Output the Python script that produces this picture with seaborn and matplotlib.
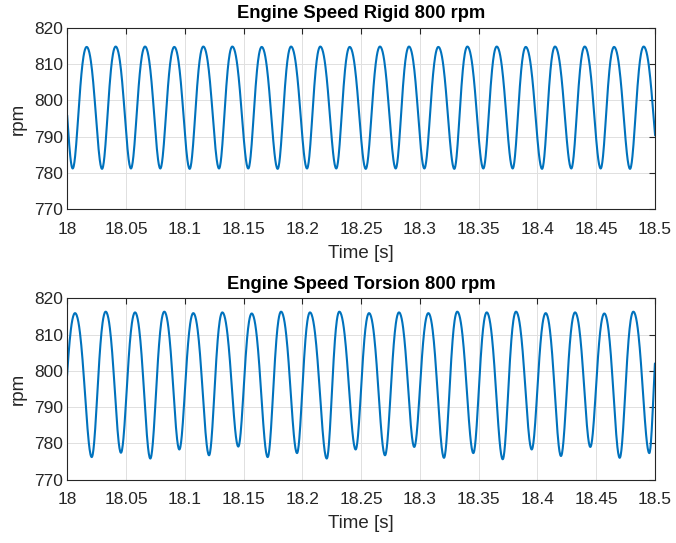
import numpy as np
import pandas as pd
import seaborn as sns
import matplotlib.pyplot as plt

# Extrema (time [s], engine speed [rpm])
# first/last entries sit just outside the 18-18.5 s window
rigid_peak_t = [17.9927, 18.0164, 18.0411, 18.0661, 18.0910, 18.1157, 18.1404, 18.1654,
                18.1904, 18.2153, 18.2403, 18.2661, 18.2908, 18.3158, 18.3405, 18.3655,
                18.3902, 18.4151, 18.4404, 18.4654, 18.4906]
rigid_peak_v = [815.0, 814.8, 814.9, 814.9, 814.8, 814.9, 814.9, 814.8, 814.9, 814.9, 814.8,
                814.9, 814.9, 814.8, 814.9, 814.9, 814.8, 814.9, 814.9, 814.8, 814.9]
rigid_trough_t = [18.0045, 18.0295, 18.0541, 18.0791, 18.1041, 18.1291, 18.1540, 18.1790,
                  18.2040, 18.2289, 18.2540, 18.2795, 18.3039, 18.3294, 18.3541, 18.3791,
                  18.4041, 18.4290, 18.4540, 18.4790, 18.5045]
rigid_trough_v = [781.2, 781.1, 781.2, 781.2, 781.1, 781.2, 781.2, 781.1, 781.2, 781.2, 781.1,
                  781.2, 781.2, 781.1, 781.2, 781.2, 781.1, 781.2, 781.2, 781.1, 781.2]

torsion_peak_t = [18.0065, 18.0326, 18.0576, 18.0825, 18.1072, 18.1319, 18.1569, 18.1819,
                  18.2065, 18.2315, 18.2568, 18.2823, 18.3073, 18.3319, 18.3570, 18.3819,
                  18.4072, 18.4322, 18.4571, 18.4818, 18.5045]
torsion_peak_v = [815.9, 816.3, 816.1, 816.3, 815.9, 816.1, 815.8, 816.3, 816.1, 816.3, 815.9,
                  816.1, 815.9, 816.3, 816.1, 816.3, 815.9, 816.1, 815.8, 816.3, 816.0]
torsion_trough_t = [17.9935, 18.0207, 18.0456, 18.0706, 18.0953, 18.1206, 18.1455, 18.1705,
                    18.1955, 18.2208, 18.2454, 18.2704, 18.2953, 18.3206, 18.3456, 18.3706,
                    18.3953, 18.4202, 18.4452, 18.4702, 18.4954]
torsion_trough_v = [776.5, 776.2, 777.4, 775.8, 778.3, 776.7, 779.1, 776.2, 777.3, 775.8, 778.3,
                    776.7, 779.0, 776.0, 777.3, 775.6, 778.3, 776.5, 779.0, 776.0, 777.3]

x_ticks = [18, 18.05, 18.1, 18.15, 18.2, 18.25, 18.3, 18.35, 18.4, 18.45, 18.5]
x_tick_labels = ['18', '18.05', '18.1', '18.15', '18.2', '18.25', '18.3', '18.35', '18.4', '18.45', '18.5']
y_ticks = [770, 780, 790, 800, 810, 820]
titles = ['Engine Speed Rigid 800 rpm', 'Engine Speed Torsion 800 rpm']


def trace(pt, pv, tt, tv, k=0.1, n=40):
    # join the read extrema with a rounded-top / sharp-bottom half wave
    t = np.r_[pt, tt]
    v = np.r_[pv, tv]
    idx = np.argsort(t)
    t, v = t[idx], v[idx]
    s = np.linspace(0, 1, n, endpoint=False)
    h = lambda p: (1 - np.cos(p) + k * (1 - np.cos(2 * p))) / 2
    ts, vs = [], []
    for i in range(len(t) - 1):
        t0, t1, v0, v1 = t[i], t[i + 1], v[i], v[i + 1]
        if v1 > v0:
            val = v0 + (v1 - v0) * h(np.pi * s)
        else:
            val = v1 + (v0 - v1) * h(np.pi * (1 - s))
        ts.append(t0 + (t1 - t0) * s)
        vs.append(val)
    ts.append([t[-1]])
    vs.append([v[-1]])
    return pd.DataFrame({'time': np.concatenate(ts), 'rpm': np.concatenate(vs)})


rigid = trace(rigid_peak_t, rigid_peak_v, rigid_trough_t, rigid_trough_v)
torsion = trace(torsion_peak_t, torsion_peak_v, torsion_trough_t, torsion_trough_v)

sns.set_theme(style='white')
plt.rcParams['font.family'] = ['Liberation Sans', 'DejaVu Sans']

fig = plt.figure(figsize=(6.76, 5.43), dpi=100)
ax1 = fig.add_axes([0.0997, 0.6151, 0.8688, 0.3331])
ax2 = fig.add_axes([0.0997, 0.1168, 0.8688, 0.3339])

for ax, df, title in zip([ax1, ax2], [rigid, torsion], titles):
    sns.lineplot(data=df, x='time', y='rpm', ax=ax, color='#0072BD', linewidth=1.5,
                 estimator=None, sort=False)
    ax.set_xlim(18, 18.5)
    ax.set_ylim(770, 820)
    ax.set_xticks(x_ticks)
    ax.set_xticklabels(x_tick_labels)
    ax.set_yticks(y_ticks)
    ax.grid(True, color='#e0e0e0', linewidth=0.7)
    ax.set_axisbelow(True)
    for sp in ax.spines.values():
        sp.set_color('#262626')
        sp.set_linewidth(0.8)
    ax.tick_params(direction='in', length=4, width=0.8, colors='#262626',
                   top=True, right=True, labelsize=12.5)
    ax.tick_params(axis='x', pad=9)
    ax.tick_params(axis='y', pad=3.3)
    ax.set_xlabel('Time [s]', fontsize=13.5, color='#262626', labelpad=6)
    ax.set_ylabel('rpm', fontsize=13.5, color='#262626', labelpad=5)
    ax.set_title(title, fontsize=13.2, fontweight='bold', color='#000000', pad=7)

fig.savefig('out.png', dpi=100)
